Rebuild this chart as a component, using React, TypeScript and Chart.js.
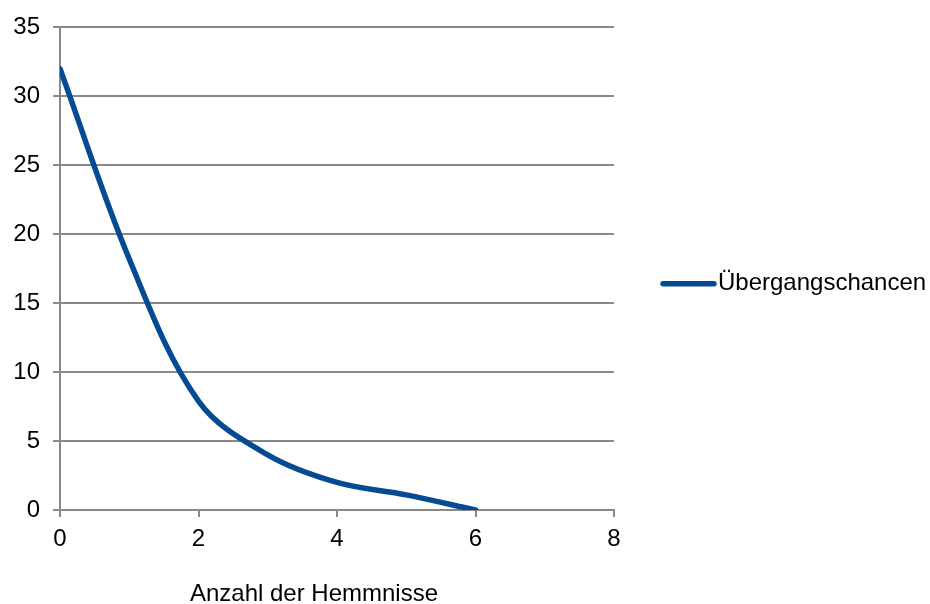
import React, { useEffect, useRef } from "react";
import { Chart, registerables } from "chart.js";

Chart.register(...registerables);

const xValues = [0, 1, 2, 3, 4, 5, 6];
const yValues = [32, 18.2, 7.9, 4, 2, 1.1, 0];
const seriesName = "Übergangschancen";
const xTitle = "Anzahl der Hemmnisse";

const FONT = "'Liberation Sans', Arial, sans-serif";
const LINE_COLOR = "#054b93";
const GRID_COLOR = "#898989";

const extras = {
  id: "extras",
  afterDraw(chart: any) {
    const ctx = chart.ctx;
    const area = chart.chartArea;
    ctx.save();
    ctx.fillStyle = "#000";
    ctx.font = `24px ${FONT}`;
    ctx.textAlign = "center";
    ctx.textBaseline = "alphabetic";
    ctx.fillText(xTitle, (area.left + area.right) / 2 - 23, chart.height - 3);
    const ly = (area.top + area.bottom) / 2 + 15;
    const lx = area.right + 49;
    ctx.strokeStyle = LINE_COLOR;
    ctx.lineWidth = 5.5;
    ctx.lineCap = "round";
    ctx.beginPath();
    ctx.moveTo(lx, ly);
    ctx.lineTo(lx + 51, ly);
    ctx.stroke();
    ctx.textAlign = "left";
    ctx.textBaseline = "middle";
    ctx.fillText(seriesName, lx + 55, ly);
    ctx.restore();
  },
};

export default function App() {
  const ref = useRef<HTMLCanvasElement>(null);
  useEffect(() => {
    document.body.style.margin = "0";
    const chart = new Chart(ref.current!, {
      type: "line",
      data: {
        datasets: [
          {
            label: seriesName,
            data: xValues.map((x, i) => ({ x, y: yValues[i] })),
            borderColor: LINE_COLOR,
            borderWidth: 5.5,
            borderCapStyle: "round",
            borderJoinStyle: "round",
            tension: 0.35,
            pointRadius: 0,
            fill: false,
          },
        ],
      },
      options: {
        animation: false,
        responsive: false,
        layout: { padding: { top: 23, right: 316, left: 0, bottom: 0 } },
        plugins: { legend: { display: false }, tooltip: { enabled: false } },
        scales: {
          x: {
            type: "linear",
            min: 0,
            max: 8,
            ticks: { stepSize: 2, color: "#000", font: { family: FONT, size: 24 }, padding: 8 },
            grid: { drawOnChartArea: false, tickLength: 7, tickColor: GRID_COLOR, lineWidth: 2 },
            border: { color: GRID_COLOR, width: 2 },
            afterFit: (s: any) => { s.height = 94; },
          },
          y: {
            min: 0,
            max: 35,
            ticks: { stepSize: 5, color: "#000", font: { family: FONT, size: 24 }, padding: 13 },
            grid: { color: GRID_COLOR, tickColor: GRID_COLOR, tickLength: 7, lineWidth: 2 },
            border: { color: GRID_COLOR, width: 2 },
            afterFit: (s: any) => { s.width = 60; },
          },
        },
      },
      plugins: [extras],
    } as any);
    return () => chart.destroy();
  }, []);
  return <canvas ref={ref} width={930} height={604} style={{ display: "block" }} />;
}
